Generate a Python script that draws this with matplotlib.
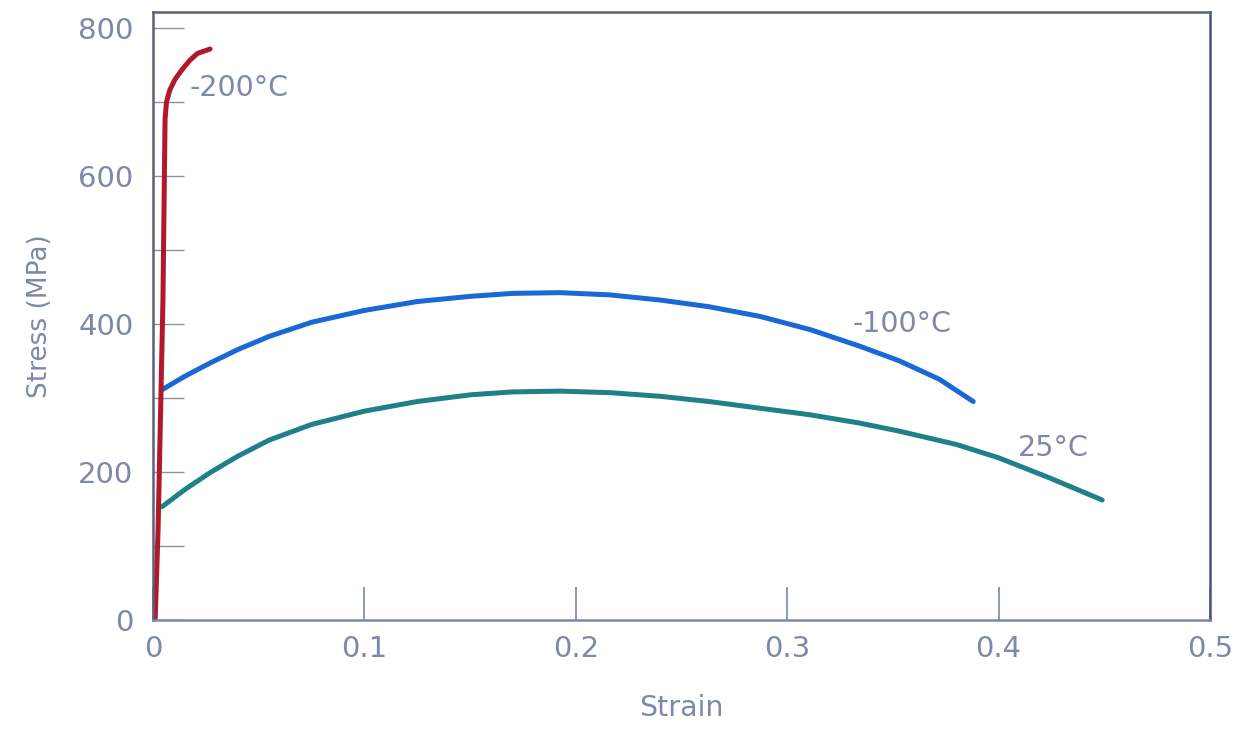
import numpy as np
import matplotlib
matplotlib.use('Agg')
import matplotlib.pyplot as plt

# stress-strain curves (strain, MPa)
strain_m200 = [0.001, 0.0024, 0.0047, 0.0057, 0.0064, 0.008, 0.0104, 0.0137, 0.0175, 0.021, 0.027]
stress_m200 = [0, 122, 432, 676, 700, 716, 730, 743, 756, 765, 771]

strain_m100 = [0.0043, 0.015, 0.027, 0.04, 0.055, 0.075, 0.1, 0.125, 0.15, 0.17, 0.1925,
               0.216, 0.24, 0.263, 0.287, 0.311, 0.334, 0.353, 0.372, 0.388]
stress_m100 = [311, 329, 347, 365, 383, 402, 418, 430, 437, 441, 442,
               439, 432, 423, 410, 392, 370, 350, 325, 295]

strain_25 = [0.0043, 0.015, 0.027, 0.04, 0.055, 0.075, 0.1, 0.125, 0.15, 0.17, 0.1925,
             0.216, 0.24, 0.263, 0.287, 0.311, 0.334, 0.353, 0.38, 0.4, 0.424, 0.449]
stress_25 = [153, 176, 199, 221, 243, 264, 282, 295, 304, 308, 309,
             307, 302, 295, 286, 277, 266, 255, 237, 219, 192, 162]

xticks = [0, 0.1, 0.2, 0.3, 0.4, 0.5]
xticklabels = ['0', '0.1', '0.2', '0.3', '0.4', '0.5']
yticks = [0, 200, 400, 600, 800]
yminor = [100, 300, 500, 700]

txt = '#7e88a8'

fig = plt.figure(figsize=(12.45, 7.3), dpi=100)
ax = fig.add_axes([0.1229, 0.1507, 0.849, 0.8329])

ax.plot(strain_25, stress_25, color='#20808a', lw=3.6, solid_capstyle='round', solid_joinstyle='round')
ax.plot(strain_m100, stress_m100, color='#1a68d6', lw=3.6, solid_capstyle='round', solid_joinstyle='round')
ax.plot(strain_m200, stress_m200, color='#b2182b', lw=3.6, solid_capstyle='round', solid_joinstyle='round')

ax.text(0.0175, 719, '-200°C', color=txt, fontsize=20.5, va='center', ha='left')
ax.text(0.331, 399, '-100°C', color=txt, fontsize=20.5, va='center', ha='left')
ax.text(0.409, 232, '25°C', color=txt, fontsize=20.5, va='center', ha='left')

ax.set_xlim(0, 0.5)
ax.set_ylim(0, 821)
ax.set_xticks(xticks)
ax.set_xticklabels(xticklabels)
ax.set_yticks(yticks)
ax.set_yticks(yminor, minor=True)
ax.tick_params(axis='x', direction='in', length=24, width=1.2, color='#7a86b0',
               labelsize=21, labelcolor=txt, pad=11)
ax.tick_params(axis='y', which='both', direction='in', length=22, width=1.0, color='#8a90a8',
               labelsize=21, labelcolor=txt, pad=14)

ax.set_xlabel('Strain', fontsize=20.5, color=txt, labelpad=22)
ax.set_ylabel('Stress (MPa)', fontsize=19, color=txt, labelpad=18)

for side, c in [('left', '#5a6078'), ('top', '#5a6078'), ('right', '#4a5580'), ('bottom', '#7a86b0')]:
    ax.spines[side].set_color(c)
    ax.spines[side].set_linewidth(1.8)

fig.savefig('out.png', dpi=100)
